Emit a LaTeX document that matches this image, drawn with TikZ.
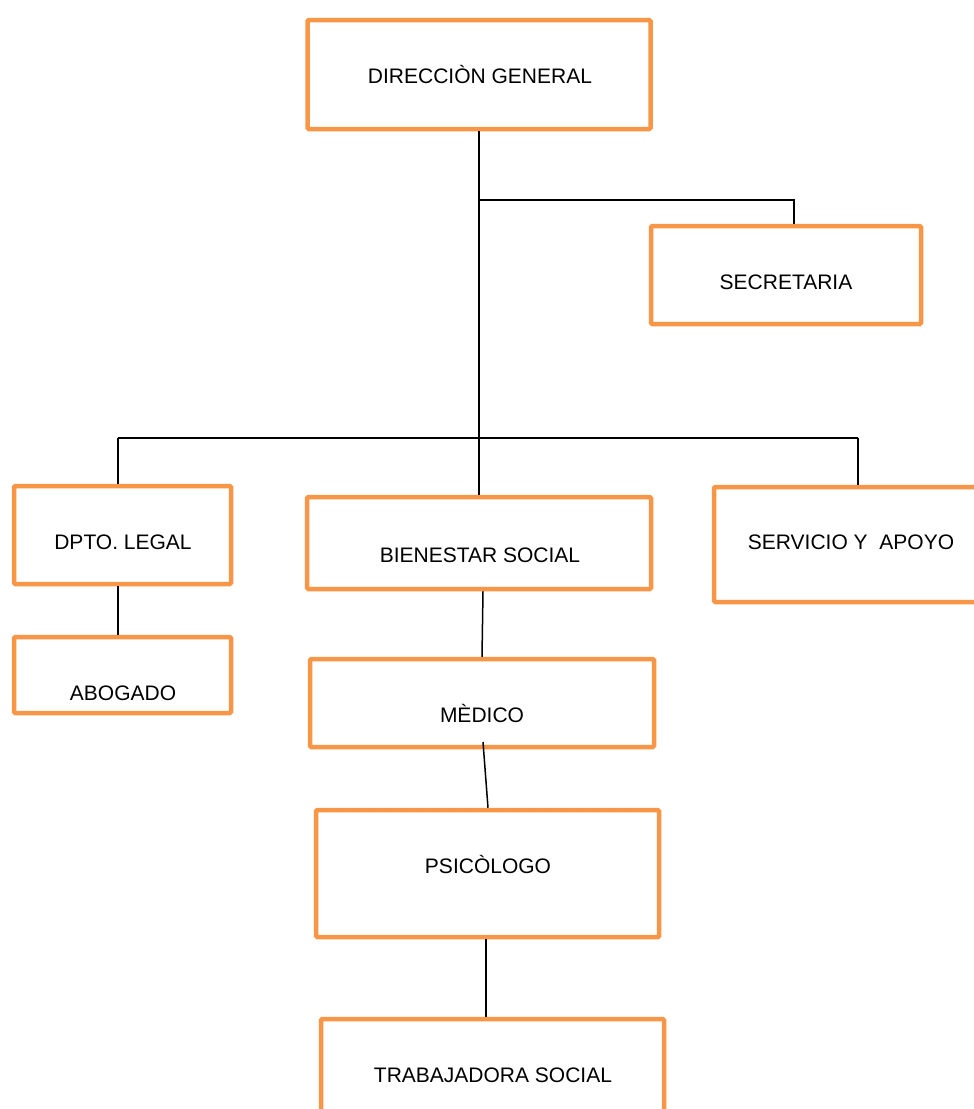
\documentclass[tikz,border=0pt]{standalone}
\usepackage{fontspec}
\setmainfont{Liberation Sans}
\definecolor{boxorange}{HTML}{F79646}
\begin{document}
\begin{tikzpicture}[x=1pt,y=-1pt,
  box/.style={draw=boxorange,line width=4.5pt,rounded corners=1.2pt,fill=white,rectangle,inner sep=0pt},
  lbl/.style={anchor=base,inner sep=0pt,font=\fontsize{21}{25}\selectfont},
  conn/.style={draw=black,line width=1.5pt}]
\useasboundingbox (0,0) rectangle (974,1109);
\begin{scope}
\clip (0,0) rectangle (974,1109);
% connectors
\coordinate (j1) at (479,200);
\coordinate (s1) at (794,200);
\coordinate (h1) at (118,438);
\coordinate (h2) at (858,438);
\coordinate (m0) at (483,742);
% boxes
\node[box,minimum width=343pt,minimum height=109pt] (dg) at (479,74.5) {};
\node[box,minimum width=270pt,minimum height=98pt] (sec) at (786,275) {};
\node[box,minimum width=217pt,minimum height=98pt] (legal) at (122.5,535) {};
\node[box,minimum width=217pt,minimum height=76pt] (abog) at (122.5,675) {};
\node[box,minimum width=344pt,minimum height=92pt] (bien) at (479,543) {};
\node[box,minimum width=286pt,minimum height=115pt] (serv) at (857,544.5) {};
\node[box,minimum width=344pt,minimum height=88pt] (med) at (482,703) {};
\node[box,minimum width=343pt,minimum height=127pt] (psi) at (487.5,873.5) {};
\node[box,minimum width=343pt,minimum height=121pt] (trab) at (492.5,1079.5) {};
% lines
\draw[conn] (dg.south) -- (bien.north);
\draw[conn] (j1) -- (s1) -- (s1 |- sec.north);
\draw[conn] (h1) -- (h2);
\draw[conn] (h1) -- (h1 |- legal.north);
\draw[conn] (h2) -- (h2 |- serv.north);
\draw[conn] (legal.south -| h1) -- (abog.north -| h1);
\draw[conn] (bien.south -| 483,0) -- (med.north -| 482,0);
\draw[conn] (m0) -- (psi.north -| 488,0);
\draw[conn] (psi.south -| 486,0) -- (trab.north -| 486,0);
% texts
\node[lbl] (tdg) at (480,83) {DIRECCIÒN GENERAL};
\node[lbl] (tsec) at (786,289) {SECRETARIA};
\node[lbl] (tlegal) at (123,549) {DPTO. LEGAL};
\node[lbl] (tabog) at (123,700) {ABOGADO};
\node[lbl] (tbien) at (480,562) {BIENESTAR SOCIAL};
\node[lbl] (tserv) at (851,549) {SERVICIO Y\ \ APOYO};
\node[lbl] (tmed) at (482,722) {MÈDICO};
\node[lbl] (tpsi) at (488,873) {PSICÒLOGO};
\node[lbl] (ttrab) at (493,1082) {TRABAJADORA SOCIAL};
\end{scope}
\end{tikzpicture}
\end{document}
